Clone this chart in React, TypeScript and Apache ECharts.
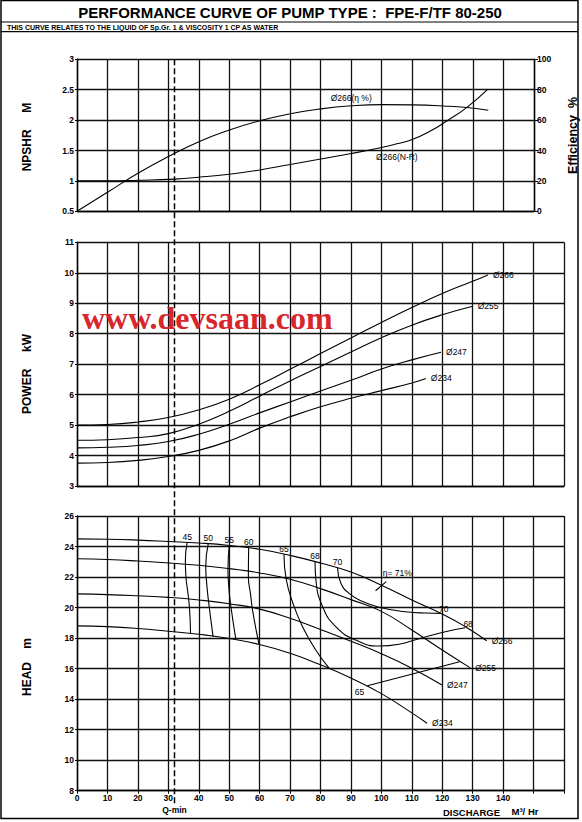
import React, { useEffect, useRef } from "react";
import * as echarts from "echarts";

const FONT = "'Liberation Sans', Arial, Helvetica, sans-serif";

// discharge axis (m³/hr)
const Q_MIN = 32;

// top panel, impeller Ø266
const npshr266: number[][] = [
  [0, 1.0], [10, 1.0], [20, 1.01], [32, 1.03], [40, 1.06], [50, 1.11], [60, 1.18],
  [70, 1.27], [80, 1.36], [90, 1.45], [100, 1.55], [105, 1.61], [110, 1.68],
  [116, 1.82], [121.5, 1.99], [128, 2.21], [134.7, 2.5],
];
const eff266: number[][] = [
  [0, 0], [10, 12.5], [20, 25], [30, 36], [40, 45.8], [50, 53.5], [60, 59.6], [70, 64.2],
  [80, 67.4], [90, 69.4], [100, 70.2], [110, 70], [120, 69.3], [128, 68.3], [135, 66.5],
];

// power kW
const power266: number[][] = [
  [0, 5.0], [10, 5.02], [20, 5.1], [30, 5.25], [40, 5.5], [50, 5.85], [60, 6.32], [70, 6.83],
  [80, 7.35], [90, 7.86], [100, 8.37], [110, 8.86], [120, 9.32], [130, 9.72], [135, 9.93],
];
const power255: number[][] = [
  [0, 4.5], [10, 4.52], [20, 4.59], [30, 4.72], [40, 5.03], [50, 5.45], [60, 5.95],
  [70, 6.45], [80, 6.92], [90, 7.4], [100, 7.87], [110, 8.28], [120, 8.62], [130, 8.9],
];
const power247: number[][] = [
  [0, 4.25], [10, 4.27], [20, 4.33], [30, 4.46], [40, 4.7], [50, 5.03], [60, 5.4],
  [70, 5.76], [80, 6.12], [90, 6.47], [100, 6.84], [110, 7.14], [119.6, 7.39],
];
const power234: number[][] = [
  [0, 3.75], [10, 3.77], [20, 3.84], [30, 3.97], [40, 4.17], [50, 4.48], [60, 4.9],
  [70, 5.27], [80, 5.6], [90, 5.88], [100, 6.13], [110, 6.38], [114.6, 6.53],
];

// head m
const head266: number[][] = [
  [0, 24.5], [10, 24.48], [20, 24.42], [30, 24.33], [40, 24.23], [50, 24.07], [60, 23.82],
  [70, 23.42], [80, 22.92], [90, 22.33], [100, 21.47], [110, 20.5], [120, 19.58],
  [128, 18.7], [134.6, 17.83],
];
const head255: number[][] = [
  [0, 23.2], [10, 23.15], [20, 23.05], [30, 22.92], [40, 22.77], [50, 22.55], [60, 22.27],
  [70, 21.85], [80, 21.24], [90, 20.52], [100, 19.75], [110, 18.53], [120, 17.22], [129.2, 16.05],
];
const head247: number[][] = [
  [0, 20.9], [10, 20.85], [20, 20.77], [30, 20.67], [40, 20.5], [50, 20.25], [60, 19.9],
  [70, 19.3], [80, 18.57], [90, 17.8], [100, 16.98], [110, 16.03], [119.9, 14.93],
];
const head234: number[][] = [
  [0, 18.8], [10, 18.75], [20, 18.63], [30, 18.45], [40, 18.25], [50, 17.97], [60, 17.58],
  [70, 17.0], [80, 16.25], [90, 15.38], [100, 14.36], [110, 13.1], [115, 12.42],
];

// iso-efficiency lines (%)
const iso45: number[][] = [[36.2, 24.27], [35.6, 23.1], [35.8, 22.0], [36.5, 20.87], [37.0, 19.84], [37.3, 18.33]];
const iso50: number[][] = [[43.1, 24.18], [42.3, 22.7], [42.6, 21.6], [43.1, 20.6], [44.7, 18.1]];
const iso55: number[][] = [[50, 24.07], [49.6, 22.46], [49.9, 21.3], [50.4, 20.3], [52.2, 17.9]];
const iso60: number[][] = [[56.4, 23.9], [56.3, 22.0], [57.0, 20.9], [57.7, 19.8], [59.8, 17.59]];
const iso65: number[][] = [[68, 23.5], [68.7, 21.9], [70.9, 20.3], [74.1, 18.75], [78.5, 17.2], [82.9, 16.02]];
const iso65b: number[][] = [[95.4, 14.88], [125.7, 16.45]];
const iso68: number[][] = [
  [78.2, 23.0], [78.5, 21.8], [80.7, 20.06], [85, 18.75], [91.6, 17.87], [99.2, 17.48],
  [105.8, 17.6], [112.3, 17.96], [121, 18.42], [127.6, 18.68],
];
const iso70: number[][] = [
  [85.6, 22.6], [86.7, 21.6], [89.4, 20.93], [93.8, 20.4], [99.2, 20.02], [107.9, 19.73],
  [114.5, 19.64], [119.6, 19.62],
];
const bepTick: number[][] = [[98.1, 21.1], [101.6, 21.7]];

const lbl = { color: "#000", fontSize: 8.5, fontFamily: FONT };

const curve = (name: string, grid: number, yIdx: number, data: any[], extra: any = {}) => ({
  name,
  type: "line",
  xAxisIndex: grid,
  yAxisIndex: yIdx,
  data,
  smooth: 0.5,
  symbol: "circle",
  symbolSize: 0.1,
  showSymbol: true,
  showAllSymbol: true,
  silent: true,
  itemStyle: { color: "#000" },
  lineStyle: { color: "#000", width: 1.1 },
  ...extra,
});

const tag = (pts: number[][], i: number, label: any) =>
  pts.map((p, k) => (k === i ? { value: p, label: { show: true, ...lbl, ...label } } : p));

const endTag = (text: string, extra: any = {}) => ({
  endLabel: { show: true, formatter: text, distance: 5, ...lbl, ...extra },
});

const App: React.FC = () => {
  const chartRef = useRef<HTMLDivElement | null>(null);

  useEffect(() => {
    const chartDom = chartRef.current;
    if (!chartDom) return;
    const myChart = echarts.init(chartDom, undefined, { renderer: "svg" });

    const splitLine = { show: true, lineStyle: { color: "#111", width: 1.3 } };
    const axisLine = { show: true, onZero: false, lineStyle: { color: "#000", width: 1.4 } };
    const tickLabel = { fontSize: 8.5, fontWeight: "bold", color: "#000", fontFamily: FONT, margin: 3 };

    const xBase = (grid: number, max: number) => ({
      gridIndex: grid,
      type: "value",
      min: 0,
      max,
      interval: 10,
      axisLine,
      splitLine,
      axisTick: { show: false },
      axisLabel: { show: false },
    });
    const yBase = (grid: number, min: number, max: number, interval: number) => ({
      gridIndex: grid,
      type: "value",
      min,
      max,
      interval,
      axisLine,
      splitLine,
      axisTick: { show: true, length: 2, lineStyle: { color: "#000" } },
      axisLabel: tickLabel,
    });

    const text = (id: string, x: number, y: number, t: string, size: number, extra: any = {}) => ({
      id,
      type: "text",
      x,
      y,
      silent: true,
      style: {
        text: t,
        fill: "#000",
        font: `bold ${size}px ${FONT}`,
        textAlign: "center",
        textVerticalAlign: "middle",
      },
      ...extra,
    });

    const subtitle = "THIS CURVE RELATES TO THE LIQUID OF Sp.Gr. 1 & VISCOSITY 1 CP AS WATER";

    const option: any = {
      animation: false,
      backgroundColor: "#fff",
      grid: [
        { left: 77, top: 59.3, width: 457, height: 152 },
        { left: 77, top: 242.3, width: 487, height: 243.7 },
        { left: 77, top: 516, width: 487, height: 274.7 },
      ],
      xAxis: [
        xBase(0, 150),
        xBase(1, 160),
        {
          ...xBase(2, 160),
          axisTick: { show: true, length: 3, lineStyle: { color: "#000" } },
          axisLabel: {
            ...tickLabel,
            formatter: (v: number) => (v <= 140 ? String(v) : ""),
          },
        },
      ],
      yAxis: [
        yBase(0, 0.5, 3, 0.5),
        {
          ...yBase(0, 0, 100, 20),
          position: "right",
          splitLine: { show: false },
          axisTick: { show: true, length: 4, lineStyle: { color: "#000" } },
        },
        yBase(1, 3, 11, 1),
        yBase(2, 8, 26, 2),
      ],
      graphic: [
        {
          id: "frame",
          type: "rect",
          shape: { x: 1, y: 0.5, width: 577, height: 818 },
          style: { fill: "none", stroke: "#000", lineWidth: 1.5 },
          silent: true,
        },
        {
          id: "rule1",
          type: "line",
          shape: { x1: 1, y1: 22, x2: 578, y2: 22 },
          style: { stroke: "#000", lineWidth: 1.2 },
          silent: true,
        },
        {
          id: "rule2",
          type: "line",
          shape: { x1: 1, y1: 31.7, x2: 578, y2: 31.7 },
          style: { stroke: "#000", lineWidth: 1.2 },
          silent: true,
        },
        text("title", 290, 12.5, "PERFORMANCE CURVE OF PUMP TYPE :  FPE-F/TF 80-250", 15),
        {
          id: "sub",
          type: "text",
          x: 7,
          y: 27,
          silent: true,
          style: {
            text: subtitle,
            fill: "#000",
            font: `bold 7px ${FONT}`,
            textAlign: "left",
            textVerticalAlign: "middle",
          },
        },
        text("npshName", 27, 137, "NPSHR     M", 12, { rotation: Math.PI / 2 }),
        text("effName", 573, 135.5, "Efficiency  %", 12.5, { rotation: Math.PI / 2 }),
        text("powerName", 27, 374, "POWER     kW", 12, { rotation: Math.PI / 2 }),
        text("headName", 27, 667, "HEAD    m", 12, { rotation: Math.PI / 2 }),
        text("discharge", 471.5, 812, "DISCHARGE", 9.5),
        text("unit", 525, 811, "M³/ Hr", 9.5),
        {
          id: "watermark",
          type: "text",
          x: 82,
          y: 318,
          silent: true,
          z: 5,
          style: {
            text: "www.devsaan.com",
            fill: "#d8262c",
            font: "bold 32px 'Liberation Serif', 'Times New Roman', serif",
            textAlign: "left",
            textVerticalAlign: "middle",
          },
        },
      ],
      series: [
        curve("Ø266(η %)", 0, 1, tag(eff266, 9, { formatter: "Ø266(η %)", position: "top", distance: 3 })),
        curve("Ø266(N-R)", 0, 0, tag(npshr266, 11, { formatter: "Ø266(N-R)", position: "bottom", distance: 9 })),

        curve("P266", 1, 2, power266, endTag("Ø266")),
        curve("P255", 1, 2, power255, endTag("Ø255")),
        curve("P247", 1, 2, power247, endTag("Ø247")),
        curve("P234", 1, 2, power234, endTag("Ø234")),

        curve("H266", 2, 3, head266, endTag("Ø266")),
        curve("H255", 2, 3, head255, endTag("Ø255")),
        curve("H247", 2, 3, head247, endTag("Ø247")),
        curve("H234", 2, 3, head234, endTag("Ø234")),

        curve("e45", 2, 3, tag(iso45, 0, { formatter: "45", position: "top", distance: 1 })),
        curve("e50", 2, 3, tag(iso50, 0, { formatter: "50", position: "top", distance: 1 })),
        curve("e55", 2, 3, tag(iso55, 0, { formatter: "55", position: "top", distance: 1 })),
        curve("e60", 2, 3, tag(iso60, 0, { formatter: "60", position: "top", distance: 1 })),
        curve("e65", 2, 3, tag(iso65, 0, { formatter: "65", position: "top", distance: 1 })),
        curve("e65b", 2, 3, tag(iso65b, 0, { formatter: "65", position: "left", distance: 3, offset: [0, 6] }), { smooth: false }),
        curve("e68", 2, 3, tag(iso68, 0, { formatter: "68", position: "top", distance: 1 }), endTag("68", { distance: 1, offset: [-3, -4] })),
        curve("e70", 2, 3, tag(iso70, 0, { formatter: "70", position: "top", distance: 1 }), endTag("70", { distance: 1, offset: [-3, -4] })),
        curve("bep", 2, 3, tag(bepTick, 1, { formatter: "η= 71%", position: "top", distance: 4, offset: [11, 0] }), { smooth: false }),
      ],
    };

    myChart.setOption(option);

    // Q-min dashed line across all three panels
    const qx = myChart.convertToPixel({ xAxisIndex: 0 }, Q_MIN) as number;
    const yTop = myChart.convertToPixel({ yAxisIndex: 0 }, 3) as number;
    const yBottom = (myChart.convertToPixel({ yAxisIndex: 3 }, 8) as number) + 13;
    myChart.setOption({
      graphic: [
        {
          id: "qminLine",
          type: "line",
          z: 10,
          silent: true,
          shape: { x1: qx, y1: yTop, x2: qx, y2: yBottom },
          style: { stroke: "#000", lineWidth: 1.5, lineDash: [6, 3] },
        },
        text("qminText", qx, yBottom + 6, "Q-min", 8.5),
      ],
    });

    return () => {
      myChart.dispose();
    };
  }, []);

  return (
    <div
      ref={chartRef}
      style={{
        position: "absolute",
        left: 0,
        top: 0,
        width: 582,
        height: 822,
        background: "#fff",
      }}
    />
  );
};

export default App;
